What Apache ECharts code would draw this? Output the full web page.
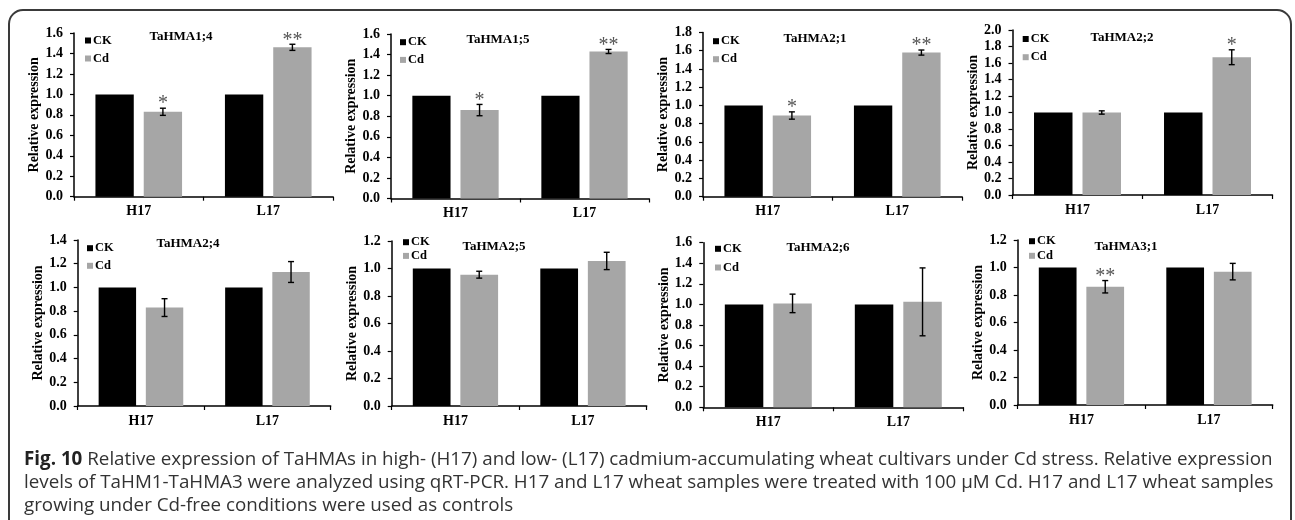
<!DOCTYPE html>
<html>
<head>
<meta charset="utf-8">
<script src="https://cdn.jsdelivr.net/npm/echarts@6/dist/echarts.min.js"></script>
<style>
  html, body { margin: 0; padding: 0; background: #fff; }
  #chart { width: 1295px; height: 520px; }
</style>
</head>
<body>
<div id="chart"></div>
<script>
// Cultivars on each x axis
const categories = ['H17', 'L17'];
// Gene shown in each panel (row by row)
const genes = ['TaHMA1;4', 'TaHMA1;5', 'TaHMA2;1', 'TaHMA2;2', 'TaHMA2;4', 'TaHMA2;5', 'TaHMA2;6', 'TaHMA3;1'];
// Control (CK) expression, normalised to 1
const ckValues = [[1, 1], [1, 1], [1, 1], [1, 1], [1, 1], [1, 1], [1, 1], [1, 1]];
// Cd-treated expression
const cdValues = [[0.83, 1.46], [0.86, 1.43], [0.89, 1.58], [1.00, 1.67], [0.83, 1.13], [0.955, 1.055], [1.01, 1.025], [0.86, 0.97]];
// Standard error of Cd-treated expression
const cdErrors = [[0.035, 0.03], [0.055, 0.02], [0.04, 0.028], [0.02, 0.09], [0.075, 0.088], [0.025, 0.063], [0.09, 0.33], [0.045, 0.06]];
// Significance marks over the Cd bars
const significance = [['*', '**'], ['*', '**'], ['*', '**'], ['', '*'], ['', ''], ['', ''], ['', ''], ['**', '']];
// Upper limit of each y axis
const yMax = [1.6, 1.6, 1.8, 2.0, 1.4, 1.2, 1.6, 1.2];
const yStep = 0.2;
const seriesNames = ['CK', 'Cd'];
const captionLines = [
  'Relative expression of TaHMAs in high- (H17) and low- (L17) cadmium-accumulating wheat cultivars under Cd stress. Relative expression',
  'levels of TaHM1-TaHMA3 were analyzed using qRT-PCR. H17 and L17 wheat samples were treated with 100 \u03bcM Cd. H17 and L17 wheat samples',
  'growing under Cd-free conditions were used as controls'
];

// Panel layout: plot rectangles [left, top, width, height]
const panelBoxes = [
  [74, 33, 259, 163.7], [391, 34, 258, 164.5], [703, 32.5, 259, 164.2], [1012.5, 30, 260, 165],
  [77.7, 240, 253, 166], [391.7, 241, 255, 165], [703.3, 242.7, 260, 164.6], [1017.7, 240, 255, 165]
];
const titlePos = [[181, 37], [498, 40], [815, 39], [1122, 38], [188, 244], [494, 247], [818, 248], [1126, 247]];
const legendPos = [[85, 34, 17], [400, 35.7, 16.7], [713, 34.7, 17], [1022.7, 32.5, 17.2],
                   [87, 241.7, 16.6], [403, 235.7, 12.7], [715, 242.3, 17.7], [1029, 234.7, 13.6]];

const SERIF = '"Liberation Serif", "Times New Roman", serif';
const SANS = '"Open Sans", sans-serif';
const BAR_RATIO = 0.296;
const GAP_RATIO = 0.26;
const CK_COLOR = '#000000';
const CD_COLOR = '#a6a6a6';

const grids = [], xAxes = [], yAxes = [], series = [], titles = [], legends = [];

genes.forEach((gene, p) => {
  const [l, t, w, h] = panelBoxes[p];
  grids.push({ left: l, top: t, width: w, height: h, containLabel: false });
  xAxes.push({
    type: 'category', gridIndex: p, data: categories,
    axisLine: { lineStyle: { color: '#000', width: 1.5 } },
    axisTick: { show: true, length: 4, lineStyle: { color: '#000', width: 1.2 } },
    axisLabel: { color: '#000', fontFamily: SERIF, fontWeight: 'bold', fontSize: 14, margin: 8 }
  });
  yAxes.push({
    type: 'value', gridIndex: p, min: 0, max: yMax[p], interval: yStep,
    name: 'Relative expression', nameLocation: 'middle', nameGap: 30,
    nameTextStyle: { color: '#000', fontFamily: SERIF, fontWeight: 'bold', fontSize: 14 },
    axisLine: { show: true, lineStyle: { color: '#000', width: 1.5 } },
    axisTick: { show: true, length: 4, lineStyle: { color: '#000', width: 1.2 } },
    splitLine: { show: false },
    axisLabel: { color: '#000', fontFamily: SERIF, fontWeight: 'bold', fontSize: 14, margin: 11,
                 formatter: v => v.toFixed(1) }
  });
  series.push({
    name: 'CK', type: 'bar', xAxisIndex: p, yAxisIndex: p, data: ckValues[p],
    barWidth: (BAR_RATIO * 100) + '%', barGap: (GAP_RATIO * 100) + '%',
    itemStyle: { color: CK_COLOR }, silent: true, animation: false
  });
  series.push({
    name: 'Cd', type: 'bar', xAxisIndex: p, yAxisIndex: p, data: cdValues[p],
    barWidth: (BAR_RATIO * 100) + '%', barGap: (GAP_RATIO * 100) + '%',
    itemStyle: { color: CD_COLOR }, silent: true, animation: false
  });
  // Error bars and significance marks on the Cd bars
  series.push({
    type: 'custom', xAxisIndex: p, yAxisIndex: p, silent: true, animation: false, z: 5,
    data: categories.map((c, i) => [i, cdValues[p][i], cdErrors[p][i]]),
    renderItem: (params, api) => {
      const i = api.value(0), v = api.value(1), e = api.value(2);
      const mark = significance[p][i];
      const band = api.size([1, 0])[0];
      const bw = band * BAR_RATIO;
      const gap = bw * GAP_RATIO;
      const x = api.coord([i, 0])[0] + gap / 2 + bw / 2;
      const yTop = api.coord([i, v + e])[1];
      const yBot = api.coord([i, v - e])[1];
      const cap = 3;
      const st = { stroke: '#000', lineWidth: 1.4 };
      const children = [
        { type: 'line', shape: { x1: x, y1: yTop, x2: x, y2: yBot }, style: st },
        { type: 'line', shape: { x1: x - cap, y1: yTop, x2: x + cap, y2: yTop }, style: st },
        { type: 'line', shape: { x1: x - cap, y1: yBot, x2: x + cap, y2: yBot }, style: st }
      ];
      if (mark) {
        children.push({
          type: 'text',
          style: { x: x, y: yTop + 6, text: mark, fill: '#555', font: '20px ' + SERIF,
                   align: 'center', verticalAlign: 'bottom' }
        });
      }
      return { type: 'group', children };
    }
  });
  titles.push({
    text: gene, left: titlePos[p][0], top: titlePos[p][1] - 7, textAlign: 'center', padding: 0,
    textStyle: { color: '#000', fontFamily: SERIF, fontWeight: 'bold', fontSize: 13, lineHeight: 14 }
  });
  const [lx, ly, sp] = legendPos[p];
  legends.push({
    data: seriesNames, left: lx, top: ly, orient: 'vertical', padding: 0,
    itemWidth: 6, itemHeight: 6, itemGap: sp - 12, icon: 'rect', selectedMode: false,
    textStyle: { color: '#000', fontFamily: SERIF, fontWeight: 'bold', fontSize: 12.5, lineHeight: 12,
                 padding: [0, 0, 0, -3] }
  });
});

const CAPTION_SIZE = 18.8;
const CAPTION_FONT = CAPTION_SIZE + 'px ' + SANS;
const CAPTION_LEFT = 24;
const option = {
  backgroundColor: '#fff',
  animation: false,
  title: titles,
  legend: legends,
  grid: grids,
  xAxis: xAxes,
  yAxis: yAxes,
  series: series,
  graphic: [
    {
      type: 'rect', silent: true,
      shape: { x: 9, y: 10, width: 1282, height: 540, r: [14, 14, 0, 0] },
      style: { fill: 'none', stroke: '#3a3a3a', lineWidth: 2 }
    },
    {
      type: 'text', silent: true, left: CAPTION_LEFT, top: 450,
      style: {
        text: '{b|Fig. 10} ' + captionLines[0],
        font: CAPTION_FONT, fill: '#333',
        rich: { b: { fontFamily: SANS, fontWeight: 'bold', fontSize: CAPTION_SIZE, fill: '#222' } }
      }
    },
    { type: 'text', silent: true, left: CAPTION_LEFT, top: 473, style: { text: captionLines[1], font: CAPTION_FONT, fill: '#333' } },
    { type: 'text', silent: true, left: CAPTION_LEFT, top: 496, style: { text: captionLines[2], font: CAPTION_FONT, fill: '#333' } }
  ]
};

const chart = echarts.init(document.getElementById('chart'), null, { renderer: 'canvas' });
chart.setOption(option);
</script>
</body>
</html>
